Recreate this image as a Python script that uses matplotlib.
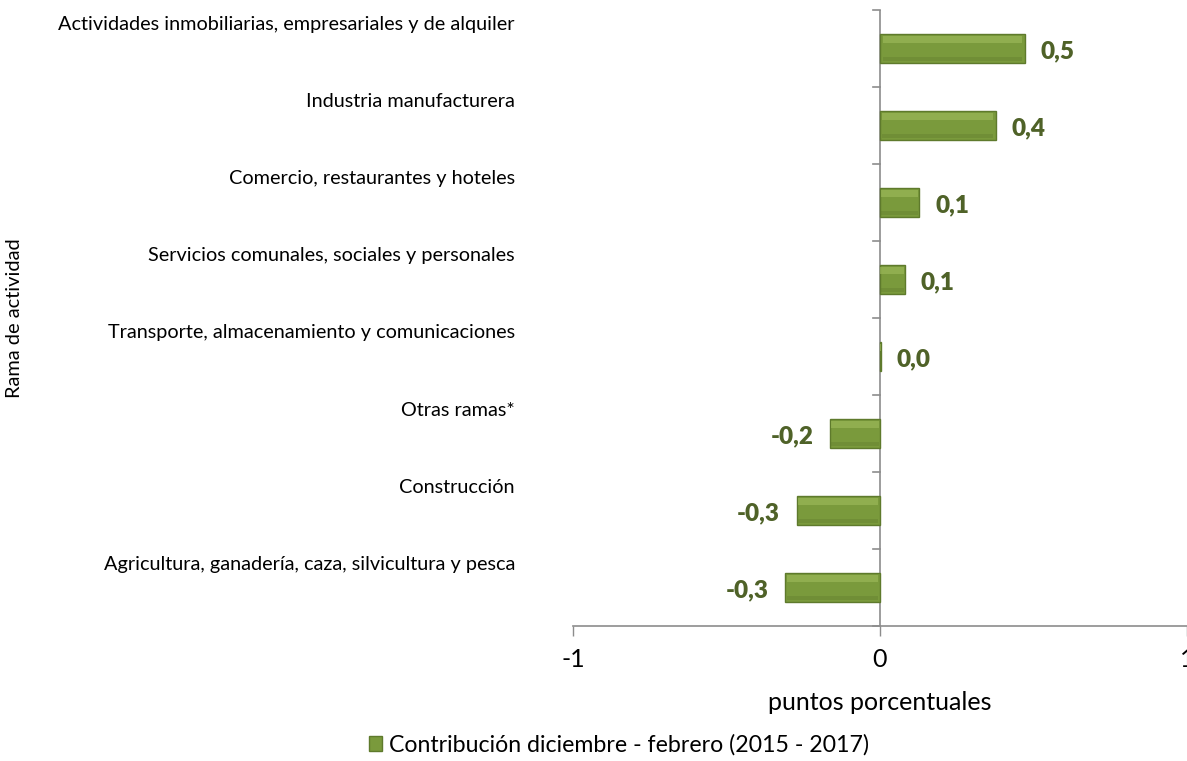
import numpy as np
import matplotlib
matplotlib.use('Agg')
import matplotlib.pyplot as plt
import matplotlib.transforms as mtransforms
from matplotlib.patches import Rectangle

##### Datos
ramas = ['Actividades inmobiliarias, empresariales y de alquiler',
         'Industria manufacturera',
         'Comercio, restaurantes y hoteles',
         'Servicios comunales, sociales y personales',
         'Transporte, almacenamiento y comunicaciones',
         'Otras ramas*',
         'Construcción',
         'Agricultura, ganadería, caza, silvicultura y pesca']
contribucion = [0.472, 0.377, 0.128, 0.080, 0.003, -0.163, -0.271, -0.309]
serie = 'Contribución diciembre - febrero (2015 - 2017)'
ticks_x = [-1, 0, 1]

##### Estilo
plt.rcParams['font.family'] = ['Lato', 'DejaVu Sans']
verde = '#7A9A3C'
verde_claro = '#9FBC5C'
verde_oscuro = '#5E7A2C'
texto_verde = '#4F6228'
gris_eje = '#8C8C8C'

fig = plt.figure(figsize=(11.87, 7.61), dpi=100)
ax = fig.add_axes([0.4827, 0.1774, 0.5173, 0.8095])

y = np.arange(len(ramas))
alto = 0.38
ax.barh(y, contribucion, height=alto, color=verde, edgecolor=verde_oscuro, linewidth=1.0, zorder=2)
# brillo superior para imitar el bisel
ax.barh(y - alto * 0.30, np.array(contribucion) * 0.96, left=np.array(contribucion) * 0.02,
        height=alto * 0.22, color=verde_claro, linewidth=0, alpha=0.6, zorder=3)
# sombra inferior
ax.barh(y + alto * 0.36, np.array(contribucion) * 0.96, left=np.array(contribucion) * 0.02,
        height=alto * 0.14, color=verde_oscuro, linewidth=0, alpha=0.35, zorder=3)

# etiquetas de datos
for yi, v in zip(y, contribucion):
    etiqueta = f'{v:.1f}'.replace('.', ',')
    if v >= 0:
        ax.annotate(etiqueta, (v, yi), xytext=(11.5, -2), textcoords='offset points',
                    ha='left', va='center', fontsize=17.5, fontweight='heavy', color=texto_verde)
    else:
        ax.annotate(etiqueta, (v, yi), xytext=(-12, -2), textcoords='offset points',
                    ha='right', va='center', fontsize=17.5, fontweight='heavy', color=texto_verde)

ax.set_xlim(-1, 1)
ax.set_ylim(len(ramas) - 0.5, -0.5)
ax.set_xticks(ticks_x)
ax.set_xticklabels([str(t) for t in ticks_x], fontsize=18)
ax.tick_params(axis='x', length=7, width=1, color=gris_eje, pad=9)

# eje vertical en cero con marcas entre categorias
for s in ['top', 'right', 'left']:
    ax.spines[s].set_visible(False)
ax.spines['bottom'].set_color(gris_eje)
ax.spines['bottom'].set_linewidth(1.2)
ax.axvline(0, color=gris_eje, linewidth=1.2, zorder=1)
ax.set_yticks([])
for b in np.arange(-0.5, len(ramas), 1.0):
    ax.plot([-0.023, 0], [b, b], color=gris_eje, linewidth=1.2, clip_on=False, zorder=1)

# nombres de las ramas
trans = mtransforms.blended_transform_factory(fig.transFigure, ax.transData)
for yi, nombre in zip(y, ramas):
    fig.text(515 / 1187, yi - 0.305, nombre, transform=trans, ha='right', va='center', fontsize=14.3)

ax.set_xlabel('puntos porcentuales', fontsize=18, labelpad=14)
fig.text(15 / 1187, ax.get_position().y0 + ax.get_position().height / 2, 'Rama de actividad',
         rotation=90, ha='center', va='center', fontsize=14.4)

# leyenda
h = Rectangle((0, 0), 1, 1, facecolor=verde, edgecolor=verde_oscuro)
fig.legend([h], [serie], loc='center', bbox_to_anchor=(619 / 1187, 1 - 745 / 761), frameon=False,
           fontsize=16.7, handlelength=0.6, handleheight=0.6, handletextpad=0.3)

fig.savefig('out.png', dpi=100)
